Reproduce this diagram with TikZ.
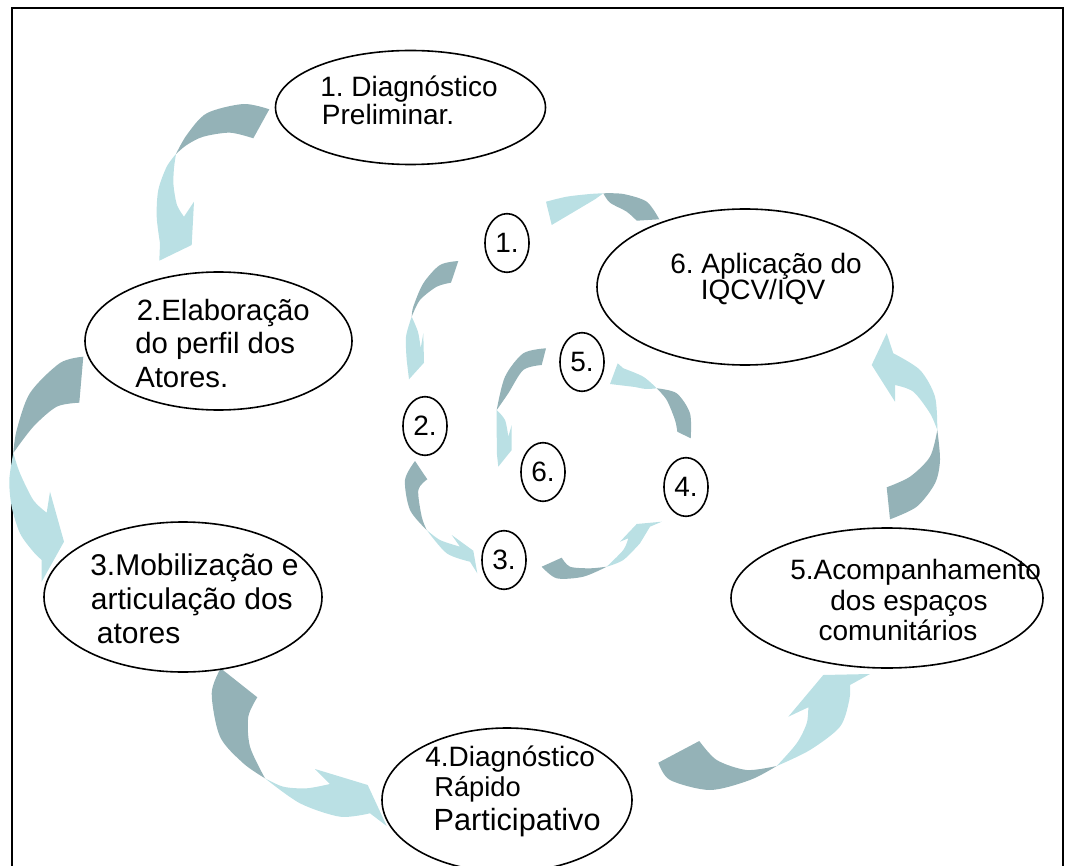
\documentclass[tikz,border=0pt]{standalone}
\usepackage{fontspec}
\setmainfont{Liberation Sans}
\usetikzlibrary{shapes.geometric}
\definecolor{arrdark}{RGB}{148,178,183}
\definecolor{arrlight}{RGB}{186,224,228}
\frenchspacing
\begin{document}
\frenchspacing
\begin{tikzpicture}[x=0.75pt,y=-0.75pt,
  big/.style={ellipse, draw=black, line width=1.2pt, inner sep=0pt},
  small/.style={ellipse, draw=black, line width=1.2pt, minimum width=33pt, minimum height=44pt, inner sep=0pt, font=\fontsize{21}{25}\selectfont},
  lbl/.style={inner sep=0pt, font=\fontsize{21}{25}\selectfont},
  dk/.style={fill=arrdark},
  lt/.style={fill=arrlight}]
\useasboundingbox (0,0) rectangle (1067,866);
% frame
\draw[line width=1.5pt] (12,866) -- (12,8) -- (1063,8) -- (1063,866);

% ---------- big arrows ----------
% A: 1 -> 2
\fill[dk] plot[smooth] coordinates {(269.3,109.3) (243.3,104) (206.7,113.3) (186.7,135) (176,154)}
  -- plot[smooth] coordinates {(176,154) (186.7,145) (203.3,136.7) (230,132.7) (253.3,138.3)} -- cycle;
\fill[lt] plot[smooth] coordinates {(176,154) (166.7,166.7) (158.3,190) (156.7,216.7) (160,243.3)}
  -- (159.3,260.7) -- (191.7,245) -- (194,201.7) -- (184,216.7)
  -- plot[smooth] coordinates {(184,216.7) (177,205) (173.5,185) (174,168) (176,154)} -- cycle;
% B: 2 -> 3
\fill[dk] plot[smooth] coordinates {(83.3,356.7) (60,363) (30,393) (16.7,430) (13.3,453)}
  -- plot[smooth] coordinates {(13.3,453) (33.3,426.7) (56.7,406.7) (79.3,402.7)} -- cycle;
\fill[lt] plot[smooth] coordinates {(13.3,453) (9.3,480) (11.7,506.7) (20,533.3) (33.3,551.7) (41.7,560)}
  -- (41.7,581.7) -- (64,541.7) -- (50,491.7) -- (46.7,512.7)
  -- plot[smooth] coordinates {(46.7,512.7) (33.3,500) (20,473.3) (13.3,453)} -- cycle;
% C: 3 -> 4
\fill[dk] plot[smooth] coordinates {(220.7,668.3) (211.7,693.3) (220,736.7) (243.3,763.3) (265,778.3)}
  -- plot[smooth] coordinates {(265,778.3) (250,746.7) (248.3,716.7) (257.3,697.3)} -- cycle;
\fill[lt] plot[smooth] coordinates {(265,778.3) (300,803.3) (340,816.7) (370,813.3)}
  -- (386.7,826) -- (367.7,785) -- (315,769) -- (330,784)
  -- plot[smooth] coordinates {(330,784) (306.7,788.3) (283.3,786.7) (265,778.3)} -- cycle;
% D: 4 -> 5
\fill[dk] plot[smooth] coordinates {(658.3,762.7) (670,780) (710,790) (750,780) (776.7,766)}
  -- plot[smooth] coordinates {(776.7,766) (746.7,770) (716.7,760) (699.3,741)} -- cycle;
\fill[lt] plot[smooth] coordinates {(776.7,766) (810,750) (840,726.7) (849.3,700) (850,685)}
  -- (870,674) -- (823.3,675) -- (788.3,716.7) -- (808.3,707.3)
  -- plot[smooth] coordinates {(808.3,707.3) (806.7,723.3) (796.7,743.3) (776.7,766)} -- cycle;
% E: 5 -> 6
\fill[dk] plot[smooth] coordinates {(890,519.3) (916.7,506.7) (935,483.3) (940,460) (937.3,430)}
  -- plot[smooth] coordinates {(937.3,430) (930,456.7) (910,476.7) (886.7,487.3)} -- cycle;
\fill[lt] plot[smooth] coordinates {(937.3,430) (935,396.7) (920,370) (893.3,353.3)}
  -- (886.7,333.3) -- (871.7,365) -- (895,401.7) -- (895,385)
  -- plot[smooth] coordinates {(895,385) (913.3,391.7) (930,413.3) (937.3,430)} -- cycle;
% F: 6 -> small 1
\fill[dk] plot[smooth] coordinates {(603.3,193.3) (623.3,194) (646.7,201.7) (659.3,219.3)}
  -- (636.7,220.7) -- plot[smooth] coordinates {(636.7,220.7) (626.7,211.7) (610,202.7) (603.3,193.3)} -- cycle;
\fill[lt] plot[smooth] coordinates {(603.3,193.3) (590,194) (566.7,196.7) (546,201.7)}
  -- (551.7,225) -- (595,199.3) -- cycle;

% ---------- small arrows ----------
% 1 -> 2
\fill[dk] plot[smooth] coordinates {(458.3,261) (440,265) (423.3,283.3) (413.3,306.7) (411.7,316.7)}
  -- plot[smooth] coordinates {(411.7,316.7) (420,300) (436.7,286.7) (451,282.7)} -- cycle;
\fill[lt] plot[smooth] coordinates {(411.7,316.7) (406,336.7) (406.7,360)}
  -- (409,379.3) -- (424,362.7) -- (423.3,333.3) -- (420.7,348.3)
  -- plot[smooth] coordinates {(420.7,348.3) (418,332) (411.7,316.7)} -- cycle;
% 2 -> 3
\fill[dk] plot[smooth] coordinates {(415,461) (405,480) (410,510) (426.7,530)}
  -- plot[smooth] coordinates {(426.7,530) (421.7,516.7) (418.3,490) (427.3,479.3)} -- cycle;
\fill[lt] plot[smooth] coordinates {(426.7,530) (446.7,553.3) (470,561.7)}
  -- (477.3,573.3) -- (473.3,550.7) -- (451.7,535) -- (460,546.7)
  -- plot[smooth] coordinates {(460,546.7) (440,540) (426.7,530)} -- cycle;
% 3 -> 4
\fill[dk] plot[smooth] coordinates {(541.7,566.7) (556.7,578.3) (583.3,576.7) (606.7,566.7)}
  -- plot[smooth] coordinates {(606.7,566.7) (590,568.3) (570,566.7) (561.7,557.7)} -- cycle;
\fill[lt] plot[smooth] coordinates {(606.7,566.7) (623.3,560) (640,543.3)}
  -- (650,526.7) -- (661.7,521.7) -- (636.7,524) -- (620,541.7) -- (628.3,538.3)
  -- plot[smooth] coordinates {(628.3,538.3) (623.3,550) (606.7,566.7)} -- cycle;
% 4 -> 5
\fill[dk] plot[smooth] coordinates {(690.7,438.3) (690,413.3) (676.7,393.3) (656.7,388.3)}
  -- plot[smooth] coordinates {(656.7,388.3) (666.7,400) (675,420) (677.3,431.7)} -- cycle;
\fill[lt] plot[smooth] coordinates {(656.7,388.3) (643.3,376.7) (623.3,368.3)}
  -- (617.7,363.3) -- (610,384) -- (635,387)
  -- plot[smooth] coordinates {(635,387) (646,389) (656.7,388.3)} -- cycle;
% 5 -> 6
\fill[dk] plot[smooth] coordinates {(546,348.3) (523.3,353.3) (505,376.7) (496.7,410)}
  -- plot[smooth] coordinates {(496.7,410) (508.3,393.3) (523.3,370) (541.7,365)} -- cycle;
\fill[lt] plot[smooth] coordinates {(496.7,410) (496.7,433.3) (497,455)}
  -- (498.3,466.7) -- (511.7,450) -- (511.7,425) -- (508.3,436.7)
  -- plot[smooth] coordinates {(508.3,436.7) (505,420) (496.7,410)} -- cycle;

% ---------- big ellipses ----------
\node[big, minimum width=202.5pt, minimum height=85.5pt] (e1) at (410.5,107.5) {};
\node[big, minimum width=200.25pt, minimum height=103.5pt] (e2) at (218.5,341) {};
\node[big, minimum width=208.5pt, minimum height=112.5pt] (e3) at (183,597) {};
\node[big, minimum width=187.5pt, minimum height=108pt] (e4) at (507,800) {};
\node[big, minimum width=234pt, minimum height=105pt] (e5) at (887,598) {};
\node[big, minimum width=222pt, minimum height=117pt] (e6) at (745,287) {};

% ---------- labels ----------
\node[lbl, anchor=base west] (t1a) at (320,96.7) {1. Diagnóstico};
\node[lbl, anchor=base west] (t1b) at (321.7,125) {Preliminar.};
\node[lbl, anchor=base west, font=\fontsize{22}{26}\selectfont] (t2a) at (136.7,320.7) {2.Elaboração};
\node[lbl, anchor=base west, font=\fontsize{22}{26}\selectfont] (t2b) at (135,353.5) {do perfil dos};
\node[lbl, anchor=base west, font=\fontsize{22}{26}\selectfont] (t2c) at (135,387.5) {Atores.};
\node[lbl, anchor=base west, font=\fontsize{22.5}{26}\selectfont] (t3a) at (90,575) {3.Mobilização e};
\node[lbl, anchor=base west, font=\fontsize{22.5}{26}\selectfont] (t3b) at (90.7,609.3) {articulação dos};
\node[lbl, anchor=base west, font=\fontsize{22.5}{26}\selectfont] (t3c) at (96.7,643.3) {atores};
\node[lbl, anchor=base west] (t4a) at (425,766) {4.Diagnóstico};
\node[lbl, anchor=base west, font=\fontsize{20.5}{24}\selectfont] (t4b) at (434,796.7) {Rápido};
\node[lbl, anchor=base west, font=\fontsize{23}{27}\selectfont] (t4c) at (433.3,830) {Participativo};
\node[lbl, anchor=base west] (t5a) at (790,579.3) {5.Acompanhamento};
\node[lbl, anchor=base] (t5b) at (909,610) {dos espaços};
\node[lbl, anchor=base] (t5c) at (898,640) {comunitários};
\node[lbl, anchor=base] (t6a) at (766,273.3) {6. Aplicação do};
\node[lbl, anchor=base] (t6b) at (763,300) {IQCV/IQV};

% ---------- small circles ----------
\node[small] (c1) at (507,243) {1.};
\node[small] (c2) at (425,426) {2.};
\node[small] (c3) at (504,560) {3.};
\node[small] (c4) at (686,487) {4.};
\node[small] (c5) at (582,362) {5.};
\node[small] (c6) at (543,472) {6.};
\end{tikzpicture}
\end{document}
